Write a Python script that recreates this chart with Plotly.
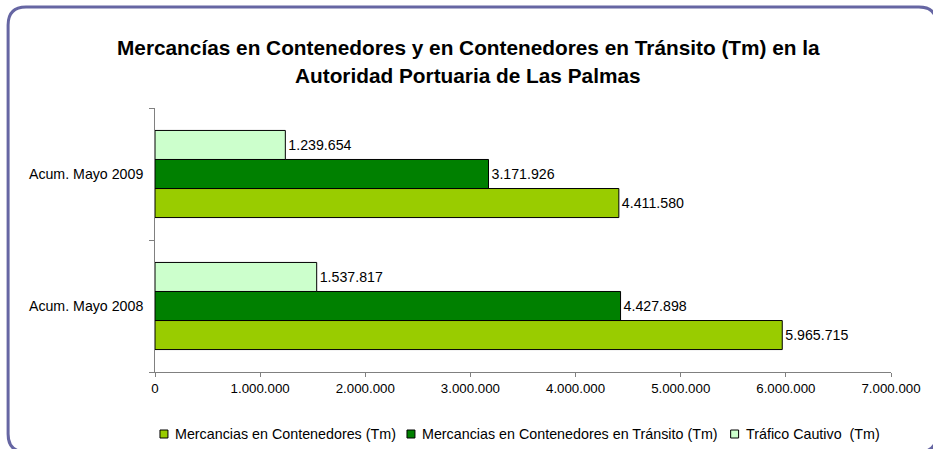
import plotly.graph_objects as go

# Periods (bottom to top) and tonnage per series
periods = ["Acum. Mayo 2008", "Acum. Mayo 2009"]
contenedores = [5965715, 4411580]
transito = [4427898, 3171926]
cautivo = [1537817, 1239654]

series_names = [
    "Mercancias en Contenedores (Tm)",
    "Mercancias en Contenedores en Tránsito (Tm)",
    "Tráfico Cautivo  (Tm)",
]
series_colors = ["#99CC00", "#008000", "#CCFFCC"]
x_ticks = [0, 1000000, 2000000, 3000000, 4000000, 5000000, 6000000, 7000000]

W, H = 933, 449
L, R, T, B = 155, 39, 108, 77
PW, PH = W - L - R, H - T - B
FONT = "Liberation Sans, Arial"


def px(x):
    return (x - L) / PW


def py(y):
    return (H - B - y) / PH


def fmt(v):
    return f"{v:,}".replace(",", ".")


fig = go.Figure()
for name, vals, col in zip(series_names, [contenedores, transito, cautivo], series_colors):
    fig.add_trace(go.Bar(
        y=periods, x=vals, name=name, orientation="h",
        marker=dict(color=col, line=dict(color="#000000", width=1)),
        text=[fmt(v) for v in vals], textposition="outside",
        textfont=dict(family=FONT, size=14.2, color="#000000"),
        cliponaxis=False, showlegend=False,
    ))

# Rounded frame around the whole chart
x0, y0, x1, y1, r = 7.5, 7, 940, 452, 18
path = (
    f"M {px(x0)},{py(y0 + r)} "
    f"Q {px(x0)},{py(y0)} {px(x0 + r)},{py(y0)} "
    f"L {px(x1 - r)},{py(y0)} "
    f"Q {px(x1)},{py(y0)} {px(x1)},{py(y0 + r)} "
    f"L {px(x1)},{py(y1 - r)} "
    f"Q {px(x1)},{py(y1)} {px(x1 - r)},{py(y1)} "
    f"L {px(x0 + r)},{py(y1)} "
    f"Q {px(x0)},{py(y1)} {px(x0)},{py(y1 - r)} Z"
)
shapes = [dict(type="path", path=path, xref="paper", yref="paper",
               line=dict(color="#6666A3", width=3), layer="below")]

title_font = dict(family=FONT, size=20.8, color="#000000")
annotations = [
    dict(text="<b>Mercancías en Contenedores y en Contenedores en Tránsito (Tm) en la</b>",
         x=px(470), y=py(47), xref="paper", yref="paper", showarrow=False,
         xanchor="center", yanchor="middle", font=title_font),
    dict(text="<b>Autoridad Portuaria de Las Palmas</b>",
         x=px(469), y=py(75), xref="paper", yref="paper", showarrow=False,
         xanchor="center", yanchor="middle", font=title_font),
]

# Legend row: small outlined swatch followed by the series name
legend_y = 434
swatch_x = [160, 408, 733]
for sx, name, col in zip(swatch_x, series_names, series_colors):
    shapes.append(dict(type="rect", xref="paper", yref="paper",
                       x0=px(sx), x1=px(sx + 8), y0=py(legend_y + 4), y1=py(legend_y - 4),
                       fillcolor=col, line=dict(color="#000000", width=1)))
    annotations.append(dict(text=name, x=px(sx + 13), y=py(legend_y), xref="paper", yref="paper",
                            showarrow=False, xanchor="left", yanchor="middle",
                            font=dict(family=FONT, size=14.3, color="#000000")))

fig.update_layout(
    width=W, height=H,
    margin=dict(l=L, r=R, t=T, b=B, pad=0),
    paper_bgcolor="#FFFFFF", plot_bgcolor="#FFFFFF",
    separators=",.",
    barmode="group", bargap=0.34, bargroupgap=0,
    font=dict(family=FONT, size=12, color="#000000"),
    shapes=shapes,
    annotations=annotations,
    showlegend=False,
    xaxis=dict(range=[0, 7000000], tickvals=x_ticks, tickformat=",d",
               showgrid=False, zeroline=False, showline=True, linecolor="#808080",
               linewidth=1, ticks="outside", ticklen=4, tickcolor="#808080",
               tickfont=dict(size=13.3), fixedrange=True),
    yaxis=dict(showgrid=False, zeroline=False, showline=True, linecolor="#808080",
               linewidth=1, ticks="outside", ticklen=5, tickcolor="#808080",
               tickson="boundaries", tickfont=dict(size=14.2), ticksuffix="  ",
               fixedrange=True),
)

fig.write_html("out.html")
